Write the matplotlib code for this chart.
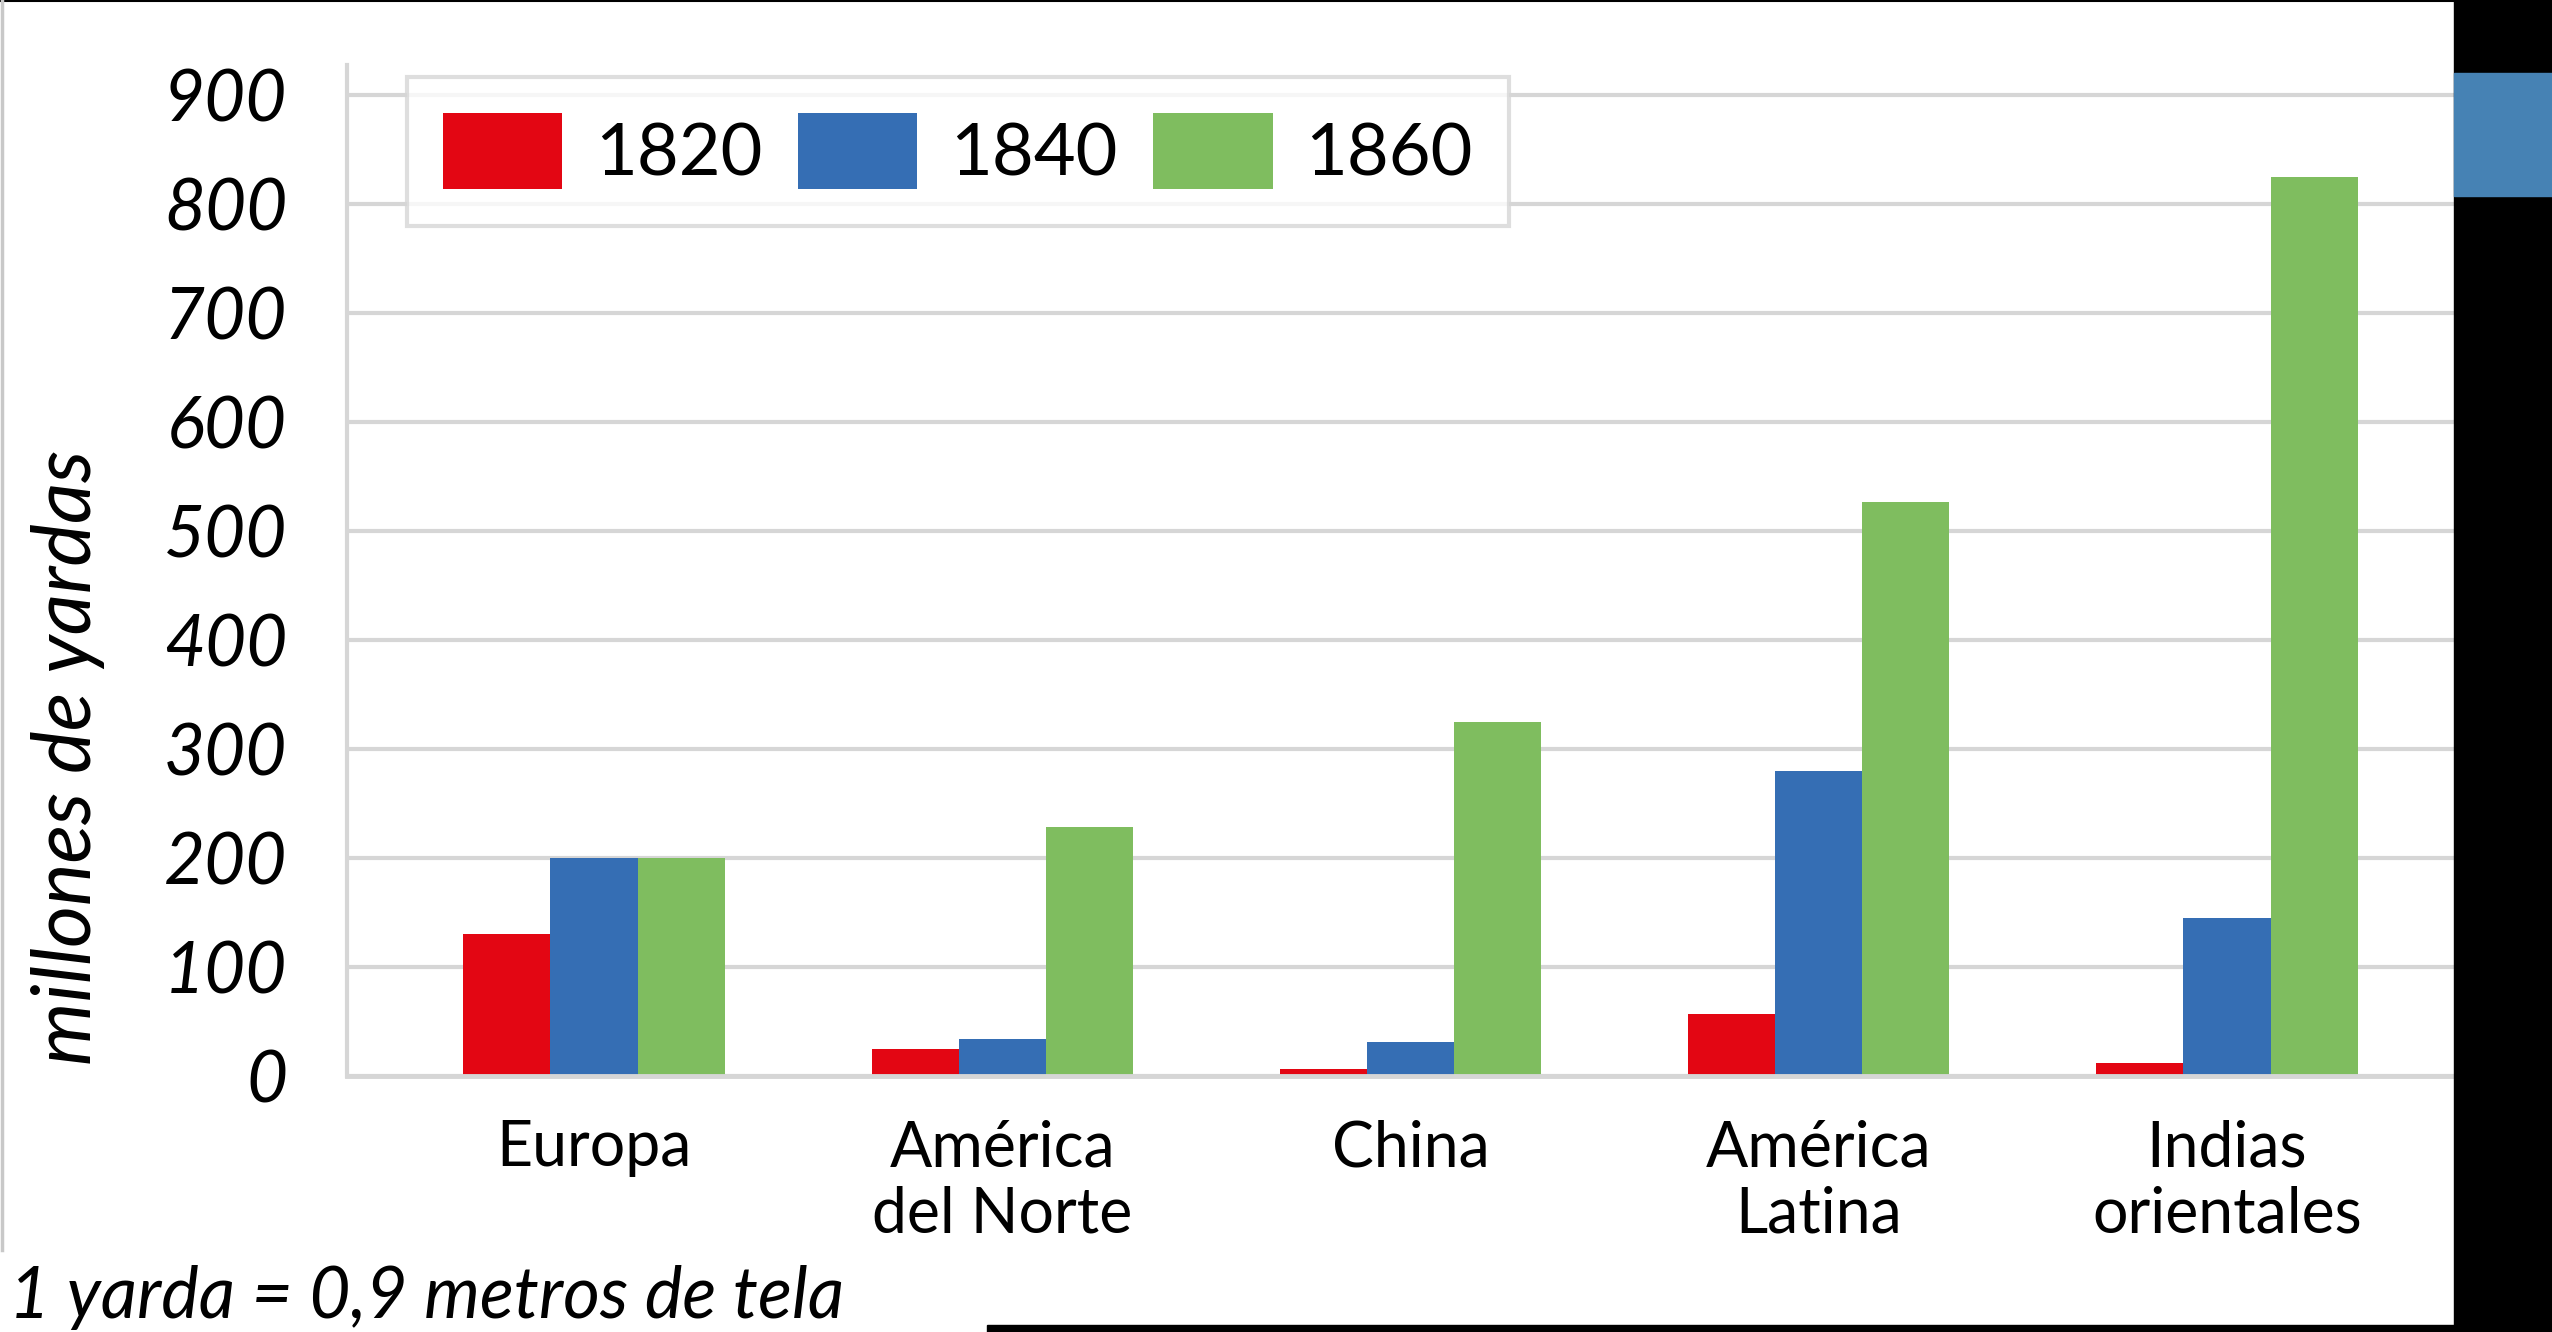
import numpy as np
import matplotlib.pyplot as plt
from matplotlib.patches import Rectangle
from matplotlib.lines import Line2D

# Cotton cloth exports by region (millions of yards)
regions = ['Europa', 'América\ndel Norte', 'China', 'América\nLatina', 'Indias\norientales']
years = ['1820', '1840', '1860']
v1820 = [130, 25, 6, 57, 12]
v1840 = [200, 34, 31, 280, 145]
v1860 = [200, 228, 325, 527, 825]
yticks = [0, 100, 200, 300, 400, 500, 600, 700, 800, 900]

colors = ['#E30613', '#356EB4', '#7FBD5F']
grid_color = '#d6d6d6'

plt.rcParams['font.family'] = ['Lato', 'DejaVu Sans']

W, H = 2552, 1332
fig = plt.figure(figsize=(W / 100, H / 100), dpi=100)
fig.patch.set_facecolor('white')

# plot area in pixel terms
x0, x1 = 347, 2454
y_base, y_top = 1076, 65
ax = fig.add_axes([x0 / W, 1 - y_base / H, (x1 - x0) / W, (y_base - y_top) / H])

x = np.arange(len(regions))
bw = 0.2135
for i, (vals, c, lab) in enumerate(zip([v1820, v1840, v1860], colors, years)):
    ax.bar(x + (i - 1) * bw, vals, width=bw, color=c, label=lab, zorder=2)

ax.set_xlim(-0.605, 4.556)
ax.set_ylim(0, (y_base - y_top) / 1.09)
ax.set_yticks(yticks)
ax.set_yticklabels([str(v) for v in yticks], fontsize=51, fontstyle='italic')
ax.set_xticks(x)
ax.set_xticklabels(regions, fontsize=45, linespacing=1.17)
ax.tick_params(axis='y', length=0, pad=43)
ax.tick_params(axis='x', length=0, pad=31)

ax.set_axisbelow(True)
ax.yaxis.grid(True, color=grid_color, linewidth=3)
for side in ['top', 'right']:
    ax.spines[side].set_visible(False)
ax.spines['left'].set_color(grid_color)
ax.spines['left'].set_linewidth(3)
ax.spines['bottom'].set_color(grid_color)
ax.spines['bottom'].set_linewidth(3.5)

leg = ax.legend(loc='upper left', bbox_to_anchor=(407 / W, 1 - 77 / H),
                bbox_transform=fig.transFigure, ncol=3, fontsize=52,
                frameon=True, fancybox=False, borderaxespad=0,
                handlelength=1.65, handleheight=1.25, handletextpad=0.45,
                columnspacing=0.5, borderpad=0.5)
leg.get_frame().set_edgecolor(grid_color)
leg.get_frame().set_linewidth(3)

fig.text(68 / W, 1 - 757 / H, 'millones de yardas', rotation=90,
         ha='center', va='center', fontsize=58, fontstyle='italic')
fig.text(9 / W, 1 - 1318 / H, '1 yarda = 0,9 metros de tela',
         ha='left', va='baseline', fontsize=51, fontstyle='italic')

# page borders around the chart
fig.add_artist(Rectangle((x1 / W, 0), (W - x1) / W, 1, transform=fig.transFigure,
                         color='black', zorder=5))
fig.add_artist(Rectangle((x1 / W, 1 - 196 / H), (W - x1) / W, 123 / H,
                         transform=fig.transFigure, color='#4682B4', zorder=6))
fig.add_artist(Rectangle((987 / W, 0), (W - 987) / W, 7 / H, transform=fig.transFigure,
                         color='black', zorder=5))
fig.add_artist(Line2D([0, 1], [1 - 1 / H, 1 - 1 / H], transform=fig.transFigure,
                      color='black', linewidth=1.5, zorder=5))
fig.add_artist(Line2D([1.5 / W, 1.5 / W], [1 - 1250 / H, 1], transform=fig.transFigure,
                      color='#c8c8c8', linewidth=2.5, zorder=5))

fig.savefig('out.png', dpi=100)
